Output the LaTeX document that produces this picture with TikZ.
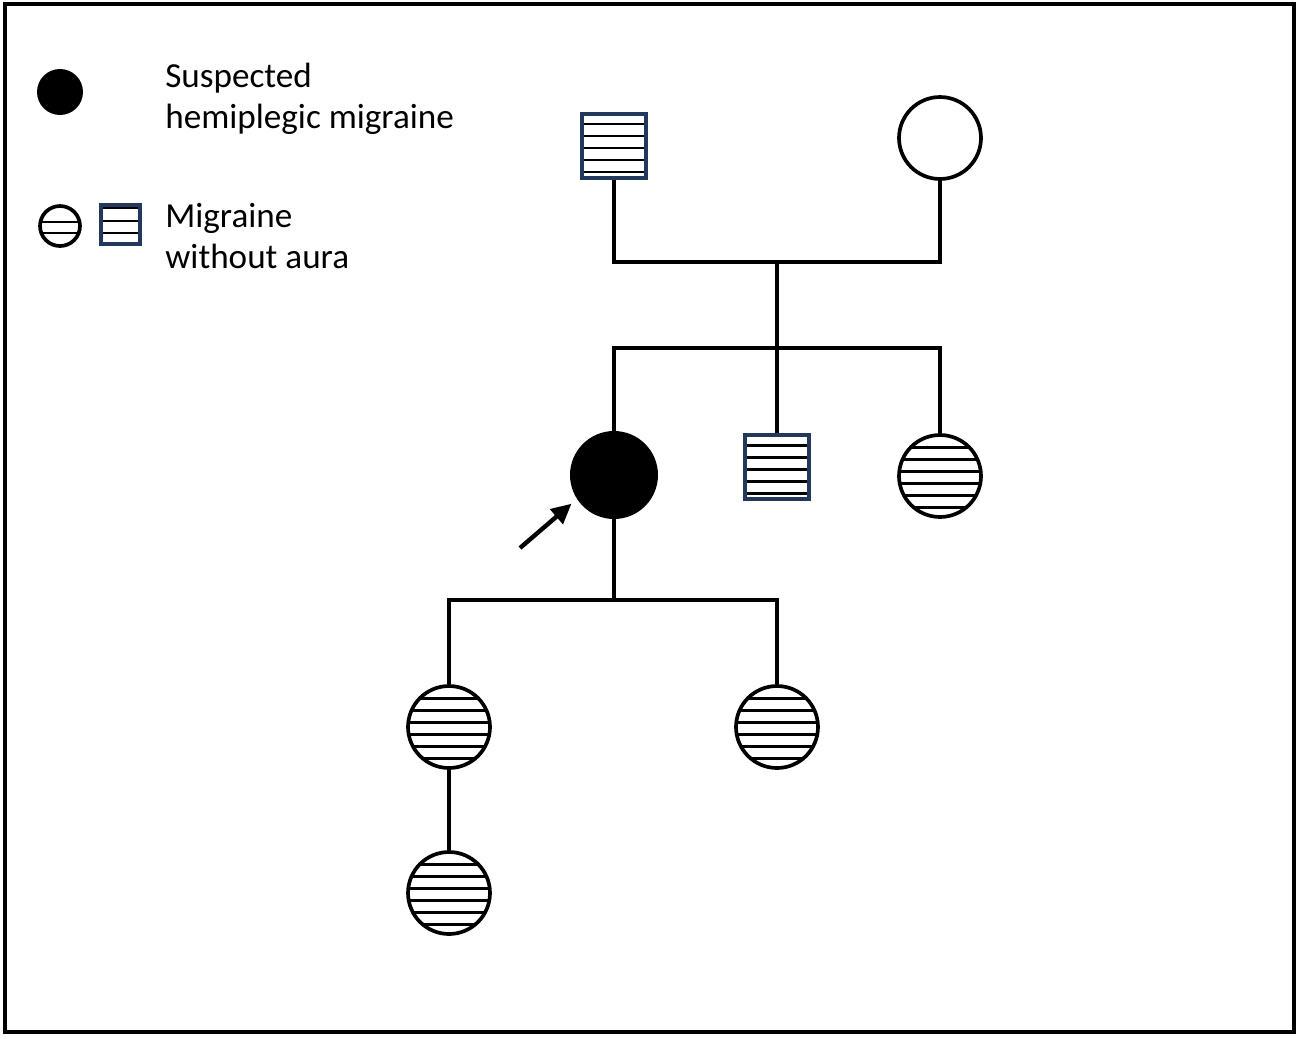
\documentclass[tikz,border=0pt]{standalone}
\usepackage{fontspec}
\setmainfont{Carlito}
\usetikzlibrary{arrows.meta}
\definecolor{boxBlue}{RGB}{31,56,100}
\tikzstyle{pedigree} = [x = 0.02cm, y = -0.02cm]
\tikzstyle{lineStyle} = [color=black, line width = 2.1pt]
\tikzstyle{stripeStyle} = [color=black, line width = 1.7pt]
\tikzstyle{frameStyle} = [color=black, line width = 1.8pt]
\tikzset{hatch/.style = {path picture = {
  \foreach \off in {#1} {
    \draw [stripeStyle] ([yshift=\off*0.02cm]path picture bounding box.west) -- ([yshift=\off*0.02cm]path picture bounding box.east);
  }
}}}
\tikzstyle{femaleStyle} = [circle, draw, lineStyle, fill=white, inner sep=0, minimum size=1.64cm]
\tikzstyle{maleStyle} = [rectangle, draw=boxBlue, line width=2.1pt, fill=white, inner sep=0, minimum size=1.28cm]
\tikzstyle{affectedStyle} = [circle, fill=black, inner sep=0]
\tikzstyle{legendText} = [anchor=base west, inner sep=0, align=left, font=\fontsize{20}{23.3}\selectfont]
\tikzstyle{arrowStyle} = [-{Triangle[length=0.4cm, width=0.38cm]}, line width=2.5pt, shorten >=0.14cm]
\newcommand{\femaleHatched}[3]{\node [femaleStyle, hatch={29,17,5,-7,-19,-31}] (#1) at (#2,#3) {};}
\newcommand{\maleHatched}[3]{\node [maleStyle, hatch={22,10,-2,-14,-26}] (#1) at (#2,#3) {};}

\begin{document}
\begin{tikzpicture}[pedigree]
  \useasboundingbox (0,0) rectangle (1298,1038);
  \draw [frameStyle] (5,4) rectangle (1294,1032);

  % legend
  \node [affectedStyle, minimum size=0.92cm] (keyAffected) at (60,92) {};
  \node [legendText] (keyAffectedText) at (165,128) {Suspected\\hemiplegic migraine};
  \node [femaleStyle, minimum size=0.8cm, hatch={20,4,-7}] (keyFemale) at (60,226) {};
  \node [maleStyle, minimum size=0.78cm, hatch={16.5,3.5,-8.5}] (keyMale) at (120.5,224.5) {};
  \node [legendText] (keyMigraineText) at (165,268) {Migraine\\without aura};

  % generation I
  \maleHatched{father}{614}{146}
  \node [femaleStyle] (mother) at (940,138) {};
  \coordinate (couple) at (777,262);
  \draw [lineStyle] (father.south) |- (couple) -| (mother.south);

  % generation II
  \node [affectedStyle, minimum size=1.76cm] (proband) at (614,475) {};
  \maleHatched{brother}{777}{467}
  \femaleHatched{sister}{940}{476}
  \coordinate (sibship) at (777,348);
  \draw [lineStyle] (couple) -- (sibship) -- (brother.north);
  \draw [lineStyle] (proband.north) |- (sibship) -| (sister.north);
  \coordinate (arrowTail) at (520,548);
  \draw [arrowStyle] (arrowTail) -- (proband.213);

  % generation III
  \femaleHatched{daughterA}{449}{727}
  \femaleHatched{daughterB}{777}{727}
  \coordinate (kids) at (614,600);
  \draw [lineStyle] (proband.south) -- (kids);
  \draw [lineStyle] (daughterA.north) |- (kids) -| (daughterB.north);

  % generation IV
  \femaleHatched{grandchild}{449}{893}
  \draw [lineStyle] (daughterA.south) -- (grandchild.north);
\end{tikzpicture}
\end{document}
